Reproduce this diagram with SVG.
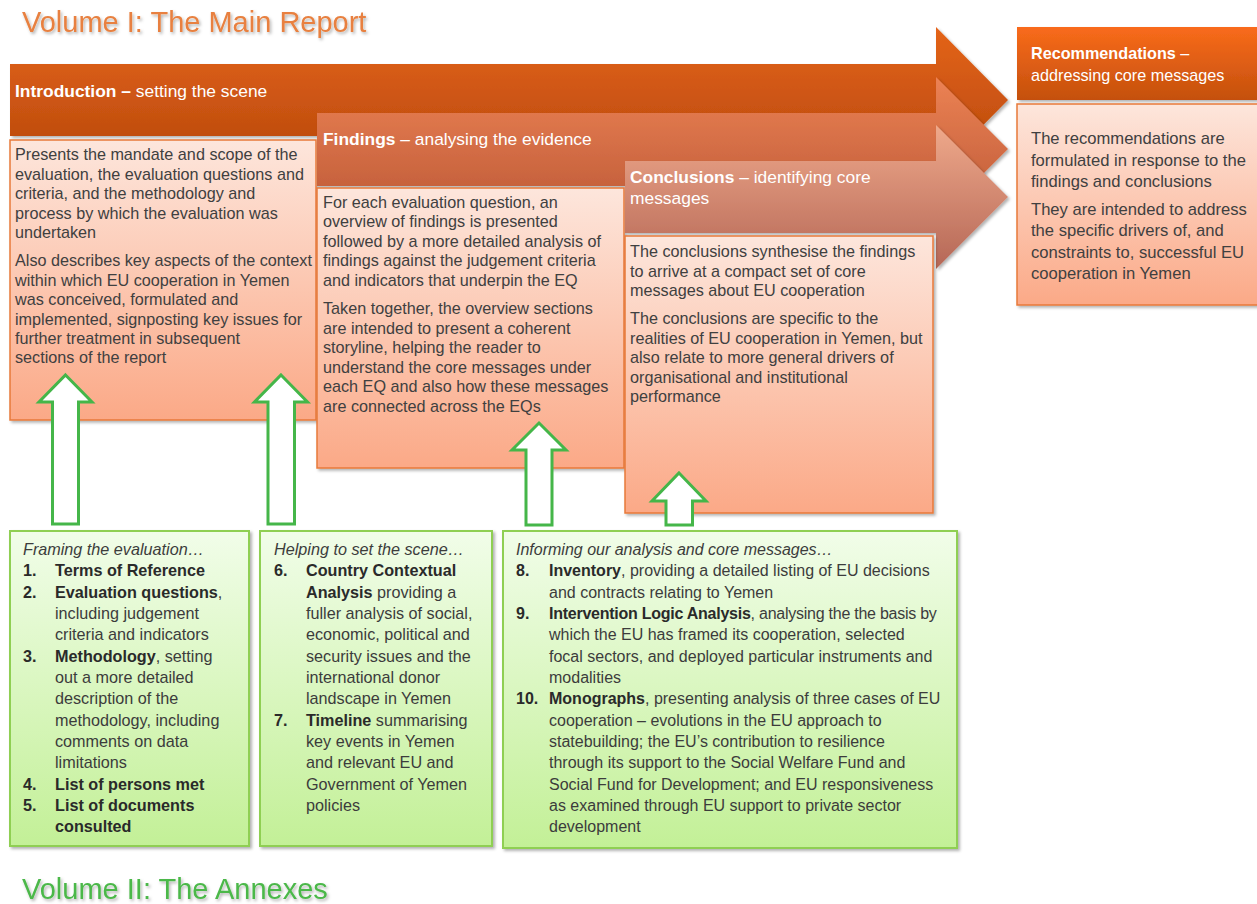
<svg xmlns="http://www.w3.org/2000/svg" width="1257" height="904" viewBox="0 0 1257 904">
  <defs>
    <linearGradient id="gArrow1" gradientUnits="userSpaceOnUse" x1="0" y1="27" x2="0" y2="173">
      <stop offset="0" stop-color="#e4641a"/>
      <stop offset="1" stop-color="#b5460b"/>
    </linearGradient>
    <linearGradient id="gArrow2" gradientUnits="userSpaceOnUse" x1="0" y1="77" x2="0" y2="221">
      <stop offset="0" stop-color="#ec8254"/>
      <stop offset="1" stop-color="#bb5836"/>
    </linearGradient>
    <linearGradient id="gArrow3" gradientUnits="userSpaceOnUse" x1="0" y1="125" x2="0" y2="269">
      <stop offset="0" stop-color="#efa98b"/>
      <stop offset="1" stop-color="#b56756"/>
    </linearGradient>
    <linearGradient id="gRecHead" x1="0" y1="0" x2="0" y2="1">
      <stop offset="0" stop-color="#f96b1b"/>
      <stop offset="1" stop-color="#c4500d"/>
    </linearGradient>
    <linearGradient id="gPeach" x1="0" y1="0" x2="0" y2="1">
      <stop offset="0" stop-color="#fde6dc"/>
      <stop offset="1" stop-color="#fba987"/>
    </linearGradient>
    <linearGradient id="gLime" x1="0" y1="0" x2="0" y2="1">
      <stop offset="0" stop-color="#f1fde9"/>
      <stop offset="1" stop-color="#c3f097"/>
    </linearGradient>
    <filter id="shadow" x="-5%" y="-5%" width="112%" height="112%">
      <feDropShadow dx="2" dy="2" stdDeviation="1.8" flood-color="#000" flood-opacity="0.3"/>
    </filter>
    <filter id="titleShadow" x="-5%" y="-20%" width="110%" height="150%">
      <feDropShadow dx="1.5" dy="2" stdDeviation="1.5" flood-color="#000" flood-opacity="0.3"/>
    </filter>
  </defs>
  <style>
    text { font-family: "Liberation Sans", Arial, sans-serif; }
    .title { font-size: 29px; }
    .head { font-size: 17.4px; fill: #ffffff; }
    .body { font-size: 16.2px; fill: #404040; }
    .rec { font-size: 16.6px; fill: #404040; }
    .list { font-size: 16.2px; fill: #3c3c3c; }
    .b { font-weight: bold; fill: #2a2a2a; }
    .hb { font-weight: bold; }
    .i { font-style: italic; }
    .peach { fill: url(#gPeach); stroke: #e8793a; stroke-width: 1.5; }
    .lime { fill: url(#gLime); stroke: #8fcf52; stroke-width: 2; }
    .up { fill: #ffffff; stroke: #45b649; stroke-width: 3; stroke-linejoin: miter; }
  </style>

  <rect width="1257" height="904" fill="#ffffff"/>

  <!-- Volume titles -->
  <text class="title" x="22" y="32" fill="#e8803f" filter="url(#titleShadow)">Volume I: The Main Report</text>
  <text class="title" x="22" y="899" fill="#4cb84a" filter="url(#titleShadow)">Volume II: The Annexes</text>

  <!-- Introduction -->
  <g id="introduction">
    <polygon points="10,64 936,64 936,27 1008,100 936,173 936,136 10,136" fill="url(#gArrow1)" filter="url(#shadow)"/>
    <text class="head" x="15" y="97"><tspan class="hb">Introduction –</tspan> setting the scene</text>
    <rect class="peach" x="10" y="140" width="306" height="280" filter="url(#shadow)"/>
    <text class="body">
      <tspan x="15" y="160">Presents the mandate and scope of the</tspan>
      <tspan x="15" y="180">evaluation, the evaluation questions and</tspan>
      <tspan x="15" y="199">criteria, and the methodology and</tspan>
      <tspan x="15" y="219">process by which the evaluation was</tspan>
      <tspan x="15" y="238">undertaken</tspan>
      <tspan x="15" y="266">Also describes key aspects of the context</tspan>
      <tspan x="15" y="286">within which EU cooperation in Yemen</tspan>
      <tspan x="15" y="305">was conceived, formulated and</tspan>
      <tspan x="15" y="325">implemented, signposting key issues for</tspan>
      <tspan x="15" y="344">further treatment in subsequent</tspan>
      <tspan x="15" y="363">sections of the report</tspan>
    </text>
  </g>

  <!-- Findings -->
  <g id="findings">
    <polygon points="317,113 936,113 936,77 1008,149 936,221 936,186 317,186" fill="url(#gArrow2)" filter="url(#shadow)"/>
    <text class="head" x="323" y="145"><tspan class="hb">Findings</tspan> – analysing the evidence</text>
    <rect class="peach" x="317" y="188" width="307" height="280" filter="url(#shadow)"/>
    <text class="body">
      <tspan x="323" y="208">For each evaluation question, an</tspan>
      <tspan x="323" y="227">overview of findings is presented</tspan>
      <tspan x="323" y="247">followed by a more detailed analysis of</tspan>
      <tspan x="323" y="266">findings against the judgement criteria</tspan>
      <tspan x="323" y="286">and indicators that underpin the EQ</tspan>
      <tspan x="323" y="314">Taken together, the overview sections</tspan>
      <tspan x="323" y="334">are intended to present a coherent</tspan>
      <tspan x="323" y="353">storyline, helping the reader to</tspan>
      <tspan x="323" y="373">understand the core messages under</tspan>
      <tspan x="323" y="392">each EQ and also how these messages</tspan>
      <tspan x="323" y="412">are connected across the EQs</tspan>
    </text>
  </g>

  <!-- Conclusions -->
  <g id="conclusions">
    <polygon points="625,161 936,161 936,125 1008,197 936,269 936,233 625,233" fill="url(#gArrow3)" filter="url(#shadow)"/>
    <text class="head">
      <tspan x="630" y="183"><tspan class="hb">Conclusions</tspan> – identifying core</tspan>
      <tspan x="630" y="204">messages</tspan>
    </text>
    <rect class="peach" x="625" y="236" width="308" height="277" filter="url(#shadow)"/>
    <text class="body">
      <tspan x="630" y="257">The conclusions synthesise the findings</tspan>
      <tspan x="630" y="277">to arrive at a compact set of core</tspan>
      <tspan x="630" y="296">messages about EU cooperation</tspan>
      <tspan x="630" y="324">The conclusions are specific to the</tspan>
      <tspan x="630" y="344">realities of EU cooperation in Yemen, but</tspan>
      <tspan x="630" y="363">also relate to more general drivers of</tspan>
      <tspan x="630" y="383">organisational and institutional</tspan>
      <tspan x="630" y="402">performance</tspan>
    </text>
  </g>

  <!-- Recommendations -->
  <g id="recommendations">
    <rect x="1017" y="27" width="240" height="73" fill="url(#gRecHead)" filter="url(#shadow)"/>
    <text class="head" style="font-size:16.2px">
      <tspan x="1031" y="59" class="hb">Recommendations <tspan font-weight="normal">–</tspan></tspan>
      <tspan x="1031" y="81">addressing core messages</tspan>
    </text>
    <rect class="peach" x="1017" y="104" width="245" height="201" filter="url(#shadow)"/>
    <text class="rec">
      <tspan x="1031" y="144">The recommendations are</tspan>
      <tspan x="1031" y="166">formulated in response to the</tspan>
      <tspan x="1031" y="187">findings and conclusions</tspan>
      <tspan x="1031" y="215">They are intended to address</tspan>
      <tspan x="1031" y="236">the specific drivers of, and</tspan>
      <tspan x="1031" y="258">constraints to, successful EU</tspan>
      <tspan x="1031" y="279">cooperation in Yemen</tspan>
    </text>
  </g>

  <!-- Annex groups -->
  <g id="annex-framing">
    <rect class="lime" x="10" y="531" width="239" height="315" filter="url(#shadow)"/>
    <text class="list">
      <tspan x="23" y="555" class="i">Framing the evaluation…</tspan>
      <tspan x="23" y="576" class="b">1.</tspan><tspan x="55" y="576" class="b">Terms of Reference</tspan>
      <tspan x="23" y="598" class="b">2.</tspan><tspan x="55" y="598"><tspan class="b">Evaluation questions</tspan>,</tspan>
      <tspan x="55" y="619">including judgement</tspan>
      <tspan x="55" y="640">criteria and indicators</tspan>
      <tspan x="23" y="662" class="b">3.</tspan><tspan x="55" y="662"><tspan class="b">Methodology</tspan>, setting</tspan>
      <tspan x="55" y="683">out a more detailed</tspan>
      <tspan x="55" y="704">description of the</tspan>
      <tspan x="55" y="726">methodology, including</tspan>
      <tspan x="55" y="747">comments on data</tspan>
      <tspan x="55" y="768">limitations</tspan>
      <tspan x="23" y="790" class="b">4.</tspan><tspan x="55" y="790" class="b">List of persons met</tspan>
      <tspan x="23" y="811" class="b">5.</tspan><tspan x="55" y="811" class="b">List of documents</tspan>
      <tspan x="55" y="832" class="b">consulted</tspan>
    </text>
  </g>

  <g id="annex-scene">
    <rect class="lime" x="260" y="531" width="232" height="315" filter="url(#shadow)"/>
    <text class="list">
      <tspan x="274" y="555" class="i">Helping to set the scene…</tspan>
      <tspan x="274" y="576" class="b">6.</tspan><tspan x="306" y="576" class="b">Country Contextual</tspan>
      <tspan x="306" y="598"><tspan class="b">Analysis</tspan> providing a</tspan>
      <tspan x="306" y="619">fuller analysis of social,</tspan>
      <tspan x="306" y="640">economic, political and</tspan>
      <tspan x="306" y="662">security issues and the</tspan>
      <tspan x="306" y="683">international donor</tspan>
      <tspan x="306" y="704">landscape in Yemen</tspan>
      <tspan x="274" y="726" class="b">7.</tspan><tspan x="306" y="726"><tspan class="b">Timeline</tspan> summarising</tspan>
      <tspan x="306" y="747">key events in Yemen</tspan>
      <tspan x="306" y="768">and relevant EU and</tspan>
      <tspan x="306" y="790">Government of Yemen</tspan>
      <tspan x="306" y="811">policies</tspan>
    </text>
  </g>

  <g id="annex-analysis">
    <rect class="lime" x="503" y="531" width="454" height="317" filter="url(#shadow)"/>
    <text class="list" style="font-size:16px">
      <tspan x="516" y="555" class="i">Informing our analysis and core messages…</tspan>
      <tspan x="516" y="576" class="b">8.</tspan><tspan x="549" y="576"><tspan class="b">Inventory</tspan>, providing a detailed listing of EU decisions</tspan>
      <tspan x="549" y="598">and contracts relating to Yemen</tspan>
      <tspan x="516" y="619" class="b">9.</tspan><tspan x="549" y="619" letter-spacing="-0.25"><tspan class="b">Intervention Logic Analysis</tspan>, analysing the the basis by</tspan>
      <tspan x="549" y="640">which the EU has framed its cooperation, selected</tspan>
      <tspan x="549" y="662">focal sectors, and deployed particular instruments and</tspan>
      <tspan x="549" y="683">modalities</tspan>
      <tspan x="516" y="704" class="b">10.</tspan><tspan x="549" y="704"><tspan class="b">Monographs</tspan>, presenting analysis of three cases of EU</tspan>
      <tspan x="549" y="726">cooperation – evolutions in the EU approach to</tspan>
      <tspan x="549" y="747">statebuilding; the EU’s contribution to resilience</tspan>
      <tspan x="549" y="768">through its support to the Social Welfare Fund and</tspan>
      <tspan x="549" y="790">Social Fund for Development; and EU responsiveness</tspan>
      <tspan x="549" y="811">as examined through EU support to private sector</tspan>
      <tspan x="549" y="832">development</tspan>
    </text>
  </g>

  <!-- Block arrows from the annexes up into the report chapters -->
  <g id="connectors">
    <polygon class="up" points="65.5,375 92,402 78.5,402 78.5,524 52.5,524 52.5,402 39,402"/>
    <polygon class="up" points="281,375 307.5,402 294.5,402 294.5,524 268,524 268,402 254.5,402"/>
    <polygon class="up" points="539,423 566,450 552,450 552,525 526,525 526,450 512,450"/>
    <polygon class="up" points="679,473 706,501 692.5,501 692.5,525 666,525 666,501 652,501"/>
  </g>
</svg>
